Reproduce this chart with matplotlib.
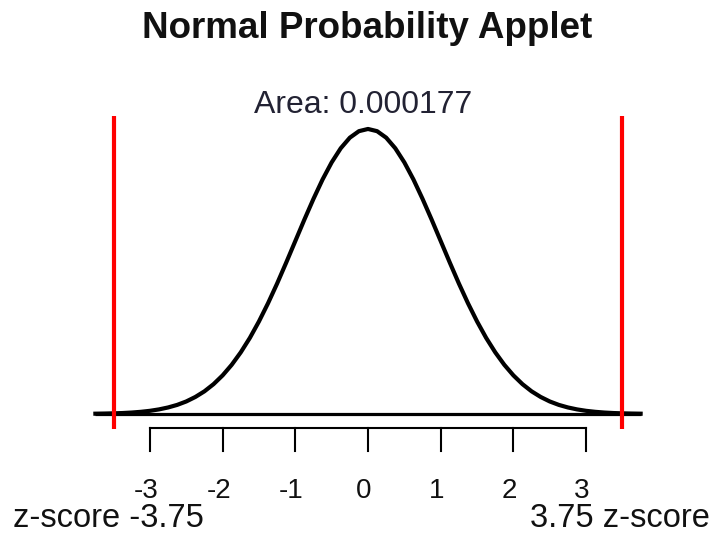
import matplotlib
matplotlib.use('Agg')
import matplotlib.pyplot as plt

# standard normal curve (z, density)
z_vals = [-3.75, -3.625, -3.5, -3.375, -3.25, -3.125, -3.0, -2.875, -2.75, -2.625, -2.5, -2.375,
          -2.25, -2.125, -2.0, -1.875, -1.75, -1.625, -1.5, -1.375, -1.25, -1.125, -1.0, -0.875,
          -0.75, -0.625, -0.5, -0.375, -0.25, -0.125, 0.0, 0.125, 0.25, 0.375, 0.5, 0.625,
          0.75, 0.875, 1.0, 1.125, 1.25, 1.375, 1.5, 1.625, 1.75, 1.875, 2.0, 2.125,
          2.25, 2.375, 2.5, 2.625, 2.75, 2.875, 3.0, 3.125, 3.25, 3.375, 3.5, 3.625, 3.75]
density = [0.0004, 0.0006, 0.0009, 0.0013, 0.0020, 0.0030, 0.0044, 0.0064, 0.0091, 0.0127, 0.0175, 0.0238,
           0.0317, 0.0417, 0.0540, 0.0688, 0.0863, 0.1065, 0.1295, 0.1550, 0.1826, 0.2119, 0.2420, 0.2721,
           0.3011, 0.3282, 0.3521, 0.3719, 0.3867, 0.3958, 0.3989, 0.3958, 0.3867, 0.3719, 0.3521, 0.3282,
           0.3011, 0.2721, 0.2420, 0.2119, 0.1826, 0.1550, 0.1295, 0.1065, 0.0863, 0.0688, 0.0540, 0.0417,
           0.0317, 0.0238, 0.0175, 0.0127, 0.0091, 0.0064, 0.0044, 0.0030, 0.0020, 0.0013, 0.0009, 0.0006, 0.0004]

tick_vals = [-3, -2, -1, 0, 1, 2, 3]
cut_lines = [-3.5, 3.5]   # where the red lines are drawn
z_low = -3.75
z_high = 3.75
area = 0.000177

plt.rcParams['font.family'] = ['Liberation Sans', 'DejaVu Sans']

fig = plt.figure(figsize=(7.11, 5.33), dpi=100)
ax = fig.add_axes([0, 0, 1, 1])
ax.set_xlim(-5.062, 4.718)
ax.set_ylim(-0.1666, 0.5794)
ax.axis('off')

# baseline and curve
ax.plot([z_vals[0], z_vals[-1]], [0, 0], color='black', lw=2.3, solid_capstyle='butt')
ax.plot(z_vals, density, color='black', lw=3.0, solid_joinstyle='round')

# red cut lines
for c in cut_lines:
    ax.plot([c, c], [-0.021, 0.417], color='red', lw=3.0, solid_capstyle='butt')

# axis with ticks
ax.plot([tick_vals[0], tick_vals[-1]], [-0.0196, -0.0196], color='black', lw=1.5)
for t in tick_vals:
    ax.plot([t, t], [-0.0196, -0.0518], color='black', lw=1.5)
    ax.text(t - 0.055, -0.1176, str(t), ha='center', va='baseline', fontsize=20, color='#111111')

ax.text(-4.885, -0.1582, f'z-score {z_low}', ha='left', va='baseline', fontsize=23.5, color='#111111')
ax.text(4.70, -0.1582, f'{z_high} z-score', ha='right', va='baseline', fontsize=23.5, color='#111111')

ax.text(-0.07, 0.4213, f'Area: {area:.6f}', ha='center', va='baseline', fontsize=23, color='#222233')
fig.text(367 / 711, 1 - 38 / 533, 'Normal Probability Applet', ha='center', va='baseline',
         fontsize=26.5, fontweight='bold', color='#111111')

fig.savefig('out.png', dpi=100)
